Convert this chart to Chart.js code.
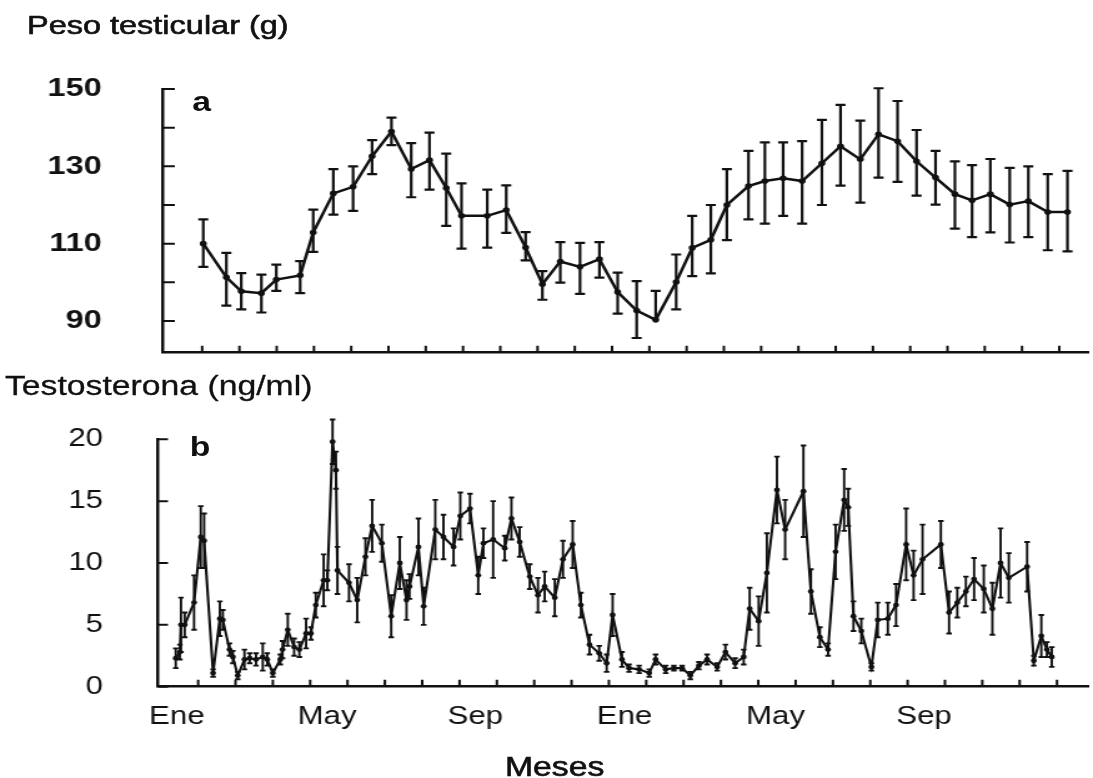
<!DOCTYPE html>
<html>
<head>
<meta charset="utf-8">
<script src="https://cdn.jsdelivr.net/npm/chart.js@4.4.1/dist/chart.umd.min.js"></script>
<style>
  html, body { margin: 0; padding: 0; background: #fff; overflow: hidden; }
  /* the reference is stretched sideways, so the whole figure is drawn narrow and widened */
  #wrap { position: absolute; left: 0; top: 0; width: 875px; height: 778px;
          transform: scaleX(1.2491); transform-origin: 0 0; }
  #wrap canvas { position: absolute; left: 0; }
  .txt { position: absolute; font-family: "Liberation Sans", Arial, sans-serif;
         color: #111; line-height: 1; white-space: nowrap; }
</style>
</head>
<body>
<div id="wrap">
  <canvas id="pesoChart" width="875" height="370" style="top:0;width:875px;height:370px"></canvas>
  <canvas id="testoChart" width="875" height="408" style="top:370px;width:875px;height:408px"></canvas>
  <div class="txt" style="left:21.6px;top:11.5px;font-size:26px;-webkit-text-stroke:0.6px #111">Peso testicular (g)</div>
  <div class="txt" style="left:4px;top:372.5px;font-size:27px;-webkit-text-stroke:0.3px #111">Testosterona (ng/ml)</div>
  <div class="txt" style="left:344px;top:754px;width:200px;text-align:center;font-size:27px;-webkit-text-stroke:0.6px #111">Meses</div>
  <div class="txt" style="left:154px;top:89px;font-size:27px;font-weight:bold">a</div>
  <div class="txt" style="left:152px;top:433.5px;font-size:27px;font-weight:bold">b</div>
</div>
<script>
// --- panel a: peso testicular (g), mean and error bar ends ---
const pesoMes = [1.03, 1.65, 2.05, 2.59, 2.99, 3.63, 3.98, 4.52, 5.05, 5.56, 6.08, 6.61, 7.10, 7.55, 7.96, 8.65,
  9.16, 9.68, 10.13, 10.61, 11.14, 11.66, 12.15, 12.66, 13.17, 13.72, 14.15, 14.65, 15.08, 15.66, 16.10, 16.59,
  17.10, 17.63, 18.13, 18.66, 19.15, 19.66, 20.17, 20.68, 21.20, 21.66, 22.15, 22.67, 23.17, 23.69, 24.22];
const pesoMedia = [110, 101.3, 97.7, 97.2, 100.7, 101.8, 112.9, 123, 124.7, 132.6, 139, 129.3, 131.6, 124.4, 117.2, 117.2,
  118.7, 109, 99.5, 105.4, 104, 106, 97.5, 92.7, 90.3, 100.1, 108.9, 111, 120, 124.9, 126.2, 126.9,
  126.2, 130.8, 135.2, 131.8, 138.3, 136.5, 131.3, 127.1, 122.8, 121.2, 122.8, 120.1, 121, 118.2, 118.2];
const pesoSup = [116.3, 107.6, 102.4, 102, 104.6, 105.5, 118.8, 129.3, 130, 136.8, 142.6, 136, 138.7, 133.3, 125.6, 124,
  125.1, 113, 102.9, 110.4, 110.2, 110.4, 102.5, 100.3, 97.8, 107.2, 117.2, 120, 129.3, 134, 136.2, 136.2,
  136.5, 142, 145.9, 141.8, 150.2, 146.9, 139.4, 134, 131.3, 130.3, 131.9, 129.6, 130, 128, 128.8];
const pesoInf = [104, 94, 93, 92.2, 97.8, 97.2, 107.9, 117.5, 118.5, 128, 135.5, 122, 124, 114.6, 108.7, 109,
  112.8, 105.7, 95.5, 99.9, 97, 101.2, 91.9, 85.6, 90.3, 93, 101.6, 102.3, 110.9, 116.3, 115.2, 117.2,
  115.2, 120, 125, 120.6, 127.1, 126, 122.4, 120.1, 113.9, 111.7, 112.9, 110.3, 111.7, 108.3, 108];
const pesoTicksY = [90, 100, 110, 120, 130, 140, 150];
const pesoLabelsY = [90, 110, 130, 150];

// --- panel b: testosterona (ng/ml), mean and error ---
const testoMes = [0.40, 0.51, 0.54, 0.64, 0.89, 1.07, 1.16, 1.40, 1.58, 1.66, 1.84, 1.93, 2.06, 2.24, 2.38, 2.55,
  2.73, 2.85, 3.00, 3.20, 3.26, 3.40, 3.57, 3.71, 3.89, 4.02, 4.15, 4.36, 4.46, 4.60, 4.69, 4.73,
  5.04, 5.26, 5.48, 5.66, 5.92, 6.17, 6.40, 6.58, 6.66, 6.90, 7.04, 7.35, 7.57, 7.84, 8.02, 8.28,
  8.50, 8.64, 8.90, 9.21, 9.39, 9.61, 9.88, 10.10, 10.28, 10.55, 10.77, 11.03, 11.25, 11.48, 11.74, 11.94,
  12.10, 12.35, 12.54, 12.81, 13.08, 13.25, 13.52, 13.74, 13.96, 14.18, 14.41, 14.63, 14.90, 15.12, 15.38, 15.61,
  15.77, 16.01, 16.23, 16.50, 16.72, 17.21, 17.41, 17.65, 17.87, 18.07, 18.30, 18.41, 18.55, 18.76, 19.03, 19.20,
  19.47, 19.69, 19.96, 20.16, 20.40, 20.89, 21.11, 21.33, 21.56, 21.78, 22.04, 22.27, 22.49, 22.71, 23.20, 23.38,
  23.58, 23.73, 23.86];
const testoMedia = [2.3, 2.8, 5.0, 5.0, 6.8, 12.1, 11.8, 1.1, 5.5, 5.4, 3.0, 2.4, 0.9, 2.2, 2.3, 2.2,
  2.4, 2.2, 1.1, 2.2, 3.0, 4.6, 3.2, 3.0, 4.3, 4.3, 6.6, 8.6, 8.6, 19.8, 17.5, 9.4,
  8.4, 7.0, 10.5, 13.0, 11.6, 5.7, 10.0, 7.0, 8.1, 11.3, 6.5, 12.7, 12.1, 11.3, 13.8, 14.4,
  9.0, 11.6, 11.9, 11.2, 13.6, 11.7, 8.9, 7.4, 8.1, 7.2, 10.3, 11.5, 6.6, 3.4, 2.7, 1.9,
  5.8, 2.2, 1.5, 1.4, 1.1, 2.2, 1.4, 1.5, 1.5, 0.9, 1.7, 2.2, 1.6, 2.8, 1.9, 2.4,
  6.3, 5.3, 9.2, 15.9, 12.7, 15.8, 7.7, 4.0, 3.0, 10.9, 15.1, 14.5, 5.7, 4.5, 1.6, 5.4,
  5.5, 6.6, 11.5, 9.0, 10.3, 11.5, 6.0, 6.8, 7.7, 8.7, 7.9, 6.3, 10.0, 8.8, 9.7, 2.1,
  4.1, 3.0, 2.4];
const testoError = [0.8, 0.6, 2.2, 1.0, 2.2, 2.5, 2.2, 0.3, 1.4, 0.8, 0.5, 0.5, 0.3, 0.8, 0.4, 0.5,
  1.1, 0.5, 0.3, 0.4, 0.7, 1.3, 0.7, 0.6, 1.2, 0.5, 1.0, 2.1, 0.8, 1.8, 1.5, 1.9,
  1.5, 1.8, 1.5, 2.1, 1.5, 1.7, 2.1, 1.6, 1.0, 2.3, 1.5, 2.4, 1.8, 1.5, 1.9, 1.2,
  1.5, 1.2, 3.1, 1.0, 1.7, 1.2, 1.0, 1.4, 1.2, 1.5, 1.5, 1.9, 1.0, 0.8, 0.6, 0.7,
  1.7, 0.6, 0.3, 0.3, 0.3, 0.4, 0.3, 0.2, 0.2, 0.3, 0.3, 0.4, 0.3, 0.6, 0.4, 0.6,
  1.7, 2.0, 3.2, 2.7, 2.4, 3.7, 1.8, 0.8, 0.5, 2.2, 2.5, 1.5, 1.2, 1.0, 0.3, 1.4,
  1.3, 1.7, 2.9, 2.0, 2.8, 1.9, 1.7, 1.2, 1.2, 1.7, 1.9, 2.1, 2.8, 2.0, 2.0, 0.4,
  1.7, 0.6, 0.8];
const testoTicksY = [0, 5, 10, 15, 20];

// --- shared month axis ---
const mesTicks = [1, 2, 3, 4, 5, 6, 7, 8, 9, 10, 11, 12, 13, 14, 15, 16, 17, 18, 19, 20, 21, 22, 23, 24];
const mesLabelPos = [0.43, 4.45, 8.42, 12.42, 16.46, 20.44];
const mesLabels = ["Ene", "May", "Sep", "Ene", "May", "Sep"];

const INK = "#111";
const FONT = "'Liberation Sans', Arial, sans-serif";

// vertical error bars with caps, read from dataset.hi / dataset.lo
const errorBars = {
    id: "errorBars",
    afterDatasetsDraw(chart) {
        const ctx = chart.ctx;
        const xs = chart.scales.x, ys = chart.scales.y;
        chart.data.datasets.forEach(ds => {
            if (!ds.hi) return;
            ctx.save();
            ctx.strokeStyle = INK;
            ctx.lineWidth = ds.errWidth;
            ds.data.forEach((p, i) => {
                const x = xs.getPixelForValue(p.x);
                const yc = ys.getPixelForValue(p.y);
                const yh = ys.getPixelForValue(ds.hi[i]);
                const yl = ys.getPixelForValue(ds.lo[i]);
                const c = ds.capHalf;
                ctx.beginPath();
                ctx.moveTo(x, yh); ctx.lineTo(x, yl);
                if (yc - yh > 1) { ctx.moveTo(x - c, yh); ctx.lineTo(x + c, yh); }
                if (yl - yc > 1) { ctx.moveTo(x - c, yl); ctx.lineTo(x + c, yl); }
                ctx.stroke();
            });
            ctx.restore();
        });
    }
};

// tick marks pointing into the plot
const inTicks = {
    id: "inTicks",
    afterDraw(chart, args, opts) {
        const ctx = chart.ctx, a = chart.chartArea;
        const xs = chart.scales.x, ys = chart.scales.y;
        ctx.save();
        ctx.strokeStyle = INK;
        ctx.lineWidth = 2;
        ctx.beginPath();
        opts.y.forEach(v => {
            const y = ys.getPixelForValue(v);
            ctx.moveTo(a.left, y); ctx.lineTo(a.left + opts.yLen, y);
        });
        opts.x.forEach(v => {
            const x = xs.getPixelForValue(v);
            ctx.moveTo(x, a.bottom); ctx.lineTo(x, a.bottom - opts.xLen);
        });
        ctx.stroke();
        ctx.restore();
    }
};

function baseOptions() {
    return {
        responsive: false,
        animation: false,
        devicePixelRatio: 1,
        plugins: { legend: { display: false }, tooltip: { enabled: false } },
        layout: { padding: 0 }
    };
}

// fixed axis box; the wide label padding must not push the plot area in
function fixY(width) {
    return s => { s.width = width; s.paddingTop = 0; s.paddingBottom = 0; };
}

// panel a
const optA = baseOptions();
optA.layout.padding = { top: 89, left: 0, right: 0, bottom: 0 };
optA.plugins.inTicks = { y: pesoTicksY, x: mesTicks, yLen: 9.5, xLen: 7 };
optA.scales = {
    x: {
        type: "linear", min: -0.05, max: 24.77,
        grid: { display: false, drawTicks: false },
        border: { display: true, color: INK, width: 2.5 },
        ticks: { display: false },
        afterFit: s => { s.height = 17.3; }
    },
    y: {
        min: 81.8, max: 150,
        grid: { display: false, drawTicks: false },
        border: { display: true, color: INK, width: 2.5 },
        afterBuildTicks: s => { s.ticks = pesoTicksY.map(v => ({ value: v })); },
        ticks: {
            color: INK, padding: 49,
            font: { family: FONT, size: 26, weight: "bold" },
            callback: v => pesoLabelsY.includes(v) ? String(v) : ""
        },
        afterFit: fixY(130.5)
    }
};

new Chart(document.getElementById("pesoChart"), {
    type: "line",
    data: {
        datasets: [{
            data: pesoMes.map((m, i) => ({ x: m, y: pesoMedia[i] })),
            hi: pesoSup, lo: pesoInf, errWidth: 2.2, capHalf: 4,
            borderColor: INK, borderWidth: 2.5,
            pointRadius: 2.8, pointBackgroundColor: INK, pointBorderWidth: 0,
            tension: 0, clip: false
        }]
    },
    options: optA,
    plugins: [errorBars, inTicks]
});

// panel b
const optB = baseOptions();
optB.layout.padding = { top: 69.3, left: 0, right: 0, bottom: 0 };
optB.plugins.inTicks = { y: testoTicksY, x: mesTicks, yLen: 8, xLen: 7 };
optB.scales = {
    x: {
        type: "linear", min: -0.075, max: 24.83,
        grid: { display: false, drawTicks: false },
        border: { display: true, color: INK, width: 2.5 },
        afterBuildTicks: s => { s.ticks = mesLabelPos.map(v => ({ value: v })); },
        ticks: {
            color: INK, padding: 15, maxRotation: 0, autoSkip: false,
            font: { family: FONT, size: 25 },
            callback: (v, i) => mesLabels[i]
        },
        afterFit: s => { s.height = 91.3; }
    },
    y: {
        min: 0, max: 20,
        grid: { display: false, drawTicks: false },
        border: { display: true, color: INK, width: 2.5 },
        afterBuildTicks: s => { s.ticks = testoTicksY.map(v => ({ value: v })); },
        ticks: {
            color: INK, padding: 44,
            font: { family: FONT, size: 25 }
        },
        afterFit: fixY(126.5)
    }
};

new Chart(document.getElementById("testoChart"), {
    type: "line",
    data: {
        datasets: [{
            data: testoMes.map((m, i) => ({ x: m, y: testoMedia[i] })),
            hi: testoMedia.map((v, i) => v + testoError[i]),
            lo: testoMedia.map((v, i) => Math.max(0, v - testoError[i])),
            errWidth: 1.9, capHalf: 2.2,
            borderColor: INK, borderWidth: 2.1,
            pointRadius: 2.4, pointBackgroundColor: INK, pointBorderWidth: 0,
            tension: 0, clip: false
        }]
    },
    options: optB,
    plugins: [errorBars, inTicks]
});
</script>
</body>
</html>
